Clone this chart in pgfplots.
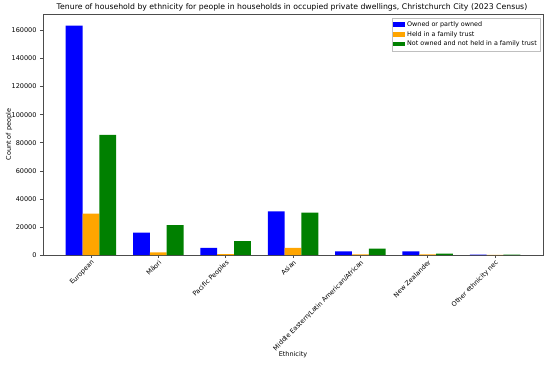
\documentclass[border=0pt]{standalone}
\usepackage{pgfplots}
\pgfplotsset{compat=1.18}
\usepackage{fontspec}
\setmainfont{DejaVu Sans}
\definecolor{mblue}{RGB}{0,0,255}
\definecolor{morange}{RGB}{255,165,0}
\definecolor{mgreen}{RGB}{0,128,0}
\begin{document}
\begin{tikzpicture}
\useasboundingbox (-43pt,-109pt) rectangle (505pt,255pt);
\begin{axis}[
  at={(0,0)}, anchor=south west,
  scale only axis, width=500pt, height=241pt,
  ybar=0pt, bar width=0.25,
  xmin=-0.7125, xmax=6.7125,
  ymin=0, ymax=171700,
  xtick={0,1,2,3,4,5,6},
  xticklabels={European,Māori,Pacific Peoples,Asian,Middle Eastern/Latin American/African,New Zealander,Other ethnicity nec},
  xticklabel style={rotate=45, anchor=north east, inner sep=1pt, font=\fontsize{6.5}{7.5}\selectfont},
  ytick={0,20000,40000,60000,80000,100000,120000,140000,160000},
  scaled y ticks=false,
  yticklabel style={/pgf/number format/fixed, /pgf/number format/1000 sep={}, font=\fontsize{6.5}{7.5}\selectfont},
  /pgf/number format/assume math mode=true,
  tick align=outside, xtick pos=bottom, ytick pos=left,
  major tick length=3pt,
  tick style={black!70, line width=0.5pt},
  axis line style={black!70, line width=0.6pt},
  xlabel={Ethnicity}, ylabel={Count of people},
  xlabel style={at={(axis description cs:0.5,-0.415)}, anchor=center, font=\fontsize{6.5}{7.5}\selectfont},
  ylabel style={at={(axis description cs:-0.068,0.5)}, anchor=center, font=\fontsize{6.5}{7.5}\selectfont},
  legend style={at={(0.995,0.985)}, anchor=north east, font=\fontsize{6.4}{7.5}\selectfont, draw=black!25, inner sep=1.5pt, row sep=-0.5pt, cells={anchor=west}},
  legend image code/.code={\fill[#1] (0pt,-2.2pt) rectangle (12pt,2.2pt);},
]
\addplot[fill=mblue, draw=none] coordinates {(0,163500) (1,15900) (2,5000) (3,31100) (4,2600) (5,2600) (6,300)};
\addplot[fill=morange, draw=none] coordinates {(0,29400) (1,1900) (2,700) (3,5000) (4,500) (5,400) (6,50)};
\addplot[fill=mgreen, draw=none] coordinates {(0,85600) (1,21300) (2,9800) (3,30200) (4,4600) (5,1000) (6,300)};
\legend{Owned or partly owned, Held in a family trust, Not owned and not held in a family trust}
\end{axis}
\node[font=\fontsize{7.75}{9}\selectfont, anchor=center, inner sep=0pt] at (249pt,247.5pt) {Tenure of household by ethnicity for people in households in occupied private dwellings, Christchurch City (2023 Census)};
\end{tikzpicture}
\end{document}
